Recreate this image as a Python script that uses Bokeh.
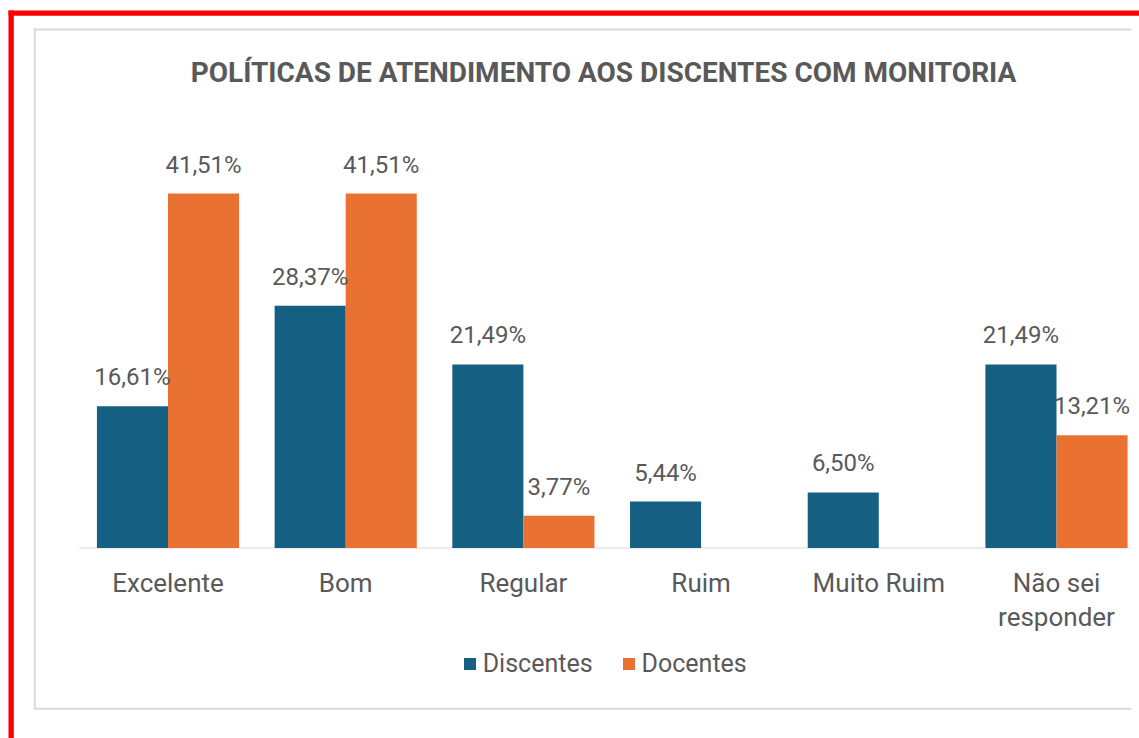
from bokeh.plotting import figure
from bokeh.models import (ColumnDataSource, Range1d, BoxAnnotation, Label, Legend,
                          LegendItem)
from bokeh.transform import dodge
from bokeh.core.properties import value
from bokeh.embed import file_html
from bokeh.resources import INLINE

# ---------------- data ----------------
categories = ["Excelente", "Bom", "Regular", "Ruim", "Muito Ruim", "Não sei responder"]
tick_labels = ["Excelente", "Bom", "Regular", "Ruim", "Muito Ruim", "Não sei\nresponder"]
discentes = [16.61, 28.37, 21.49, 5.44, 6.50, 21.49]
docentes = [41.51, 41.51, 3.77, 0.0, 0.0, 13.21]
series_names = ["Discentes", "Docentes"]
title_text = "POLÍTICAS DE ATENDIMENTO AOS DISCENTES COM MONITORIA"

BLUE = "#156082"
ORANGE = "#E97132"
TEXT = "#595959"
FONT = "Roboto"


def fmt(v):
    return f"{v:.2f}".replace(".", ",") + "%"


# ---------------- layout (pixels) ----------------
W, H = 1139, 738
X0_PX = 167.5      # pixel centre of first category
CAT_PX = 177.7     # pixels per category
Y0_PX = 547.5      # pixel of the baseline (0 %)
PCT_PX = 8.54      # pixels per percent

x_range = Range1d(-X0_PX / CAT_PX, (W - X0_PX) / CAT_PX)
y_range = Range1d(-(H - Y0_PX) / PCT_PX, Y0_PX / PCT_PX)

idx = list(range(len(categories)))
src = ColumnDataSource(dict(x=idx, disc=discentes, doc=docentes, lab=tick_labels,
                            zero=[0] * len(idx)))

p = figure(width=W, height=H, output_backend="svg", toolbar_location=None,
           x_range=x_range, y_range=y_range,
           min_border_left=0, min_border_right=0, min_border_top=0, min_border_bottom=0)
p.outline_line_color = None
p.xgrid.visible = False
p.ygrid.visible = False
p.xaxis.visible = False
p.yaxis.visible = False
p.background_fill_color = "white"
p.border_fill_color = "white"

# category axis line
p.segment(x0=[idx[0] - 0.5], x1=[idx[-1] + 0.5], y0=[0], y1=[0],
          line_color="#d9d9d9", line_width=1.2)

r1 = p.vbar(x=dodge("x", -0.2, range=p.x_range), top="disc", width=0.4, source=src,
            fill_color=BLUE, line_color=None)
r2 = p.vbar(x=dodge("x", 0.2, range=p.x_range), top="doc", width=0.4, source=src,
            fill_color=ORANGE, line_color=None)

# value labels (non-zero only)
for vals, off in ((discentes, -0.2), (docentes, 0.2)):
    xs = [i for i, v in zip(idx, vals) if v > 0]
    vs = [v for v in vals if v > 0]
    ls = ColumnDataSource(dict(x=xs, v=vs, t=[fmt(v) for v in vs]))
    p.text(x=dodge("x", off, range=p.x_range), y="v", text="t", source=ls,
           text_align="center", text_baseline="alphabetic", y_offset=-29,
           text_font=value(FONT), text_font_size="24px", text_color=TEXT)

# category labels
p.text(x="x", y="zero", text="lab", source=src, text_align="center",
       text_baseline="top", y_offset=20, text_line_height=1.12,
       text_font=value(FONT), text_font_size="26px", text_color=TEXT)

# legend
legend = Legend(items=[LegendItem(label=series_names[0], renderers=[r1]),
                       LegendItem(label=series_names[1], renderers=[r2])],
                orientation="horizontal", location=(461.7, 60.5),
                glyph_width=15, glyph_height=15, label_standoff=6, spacing=28,
                padding=0, margin=0, border_line_color=None,
                background_fill_alpha=0, label_text_font=FONT,
                label_text_font_size="25px", label_text_color=TEXT)
p.add_layout(legend, "center")

# title
p.add_layout(Label(x=603, y=72, x_units="canvas", y_units="canvas", text=title_text,
                   text_align="center", text_baseline="alphabetic",
                   text_font=FONT, text_font_style="bold", text_font_size="28px",
                   text_color=TEXT))


def cbox(l, r, t, b, color):
    return BoxAnnotation(left=l, right=r, top=t, bottom=b,
                         left_units="canvas", right_units="canvas",
                         top_units="canvas", bottom_units="canvas",
                         fill_color=color, fill_alpha=1, line_color=None)


# chart crop on the right
p.add_layout(cbox(1131, W, 15.3, H, "white"))
# chart border (light gray) - cut on the right
p.add_layout(cbox(33.3, 35.3, 28, 709.3, "#d9d9d9"))
p.add_layout(cbox(33.3, 1131, 28, 30, "#d9d9d9"))
p.add_layout(cbox(33.3, 1131, 707.3, 709.3, "#d9d9d9"))
# red frame
p.add_layout(cbox(8, 13.3, 10, H, "#FF0000"))
p.add_layout(cbox(8, W, 10, 15.3, "#FF0000"))

open("out.html", "w").write(file_html(p, INLINE))
